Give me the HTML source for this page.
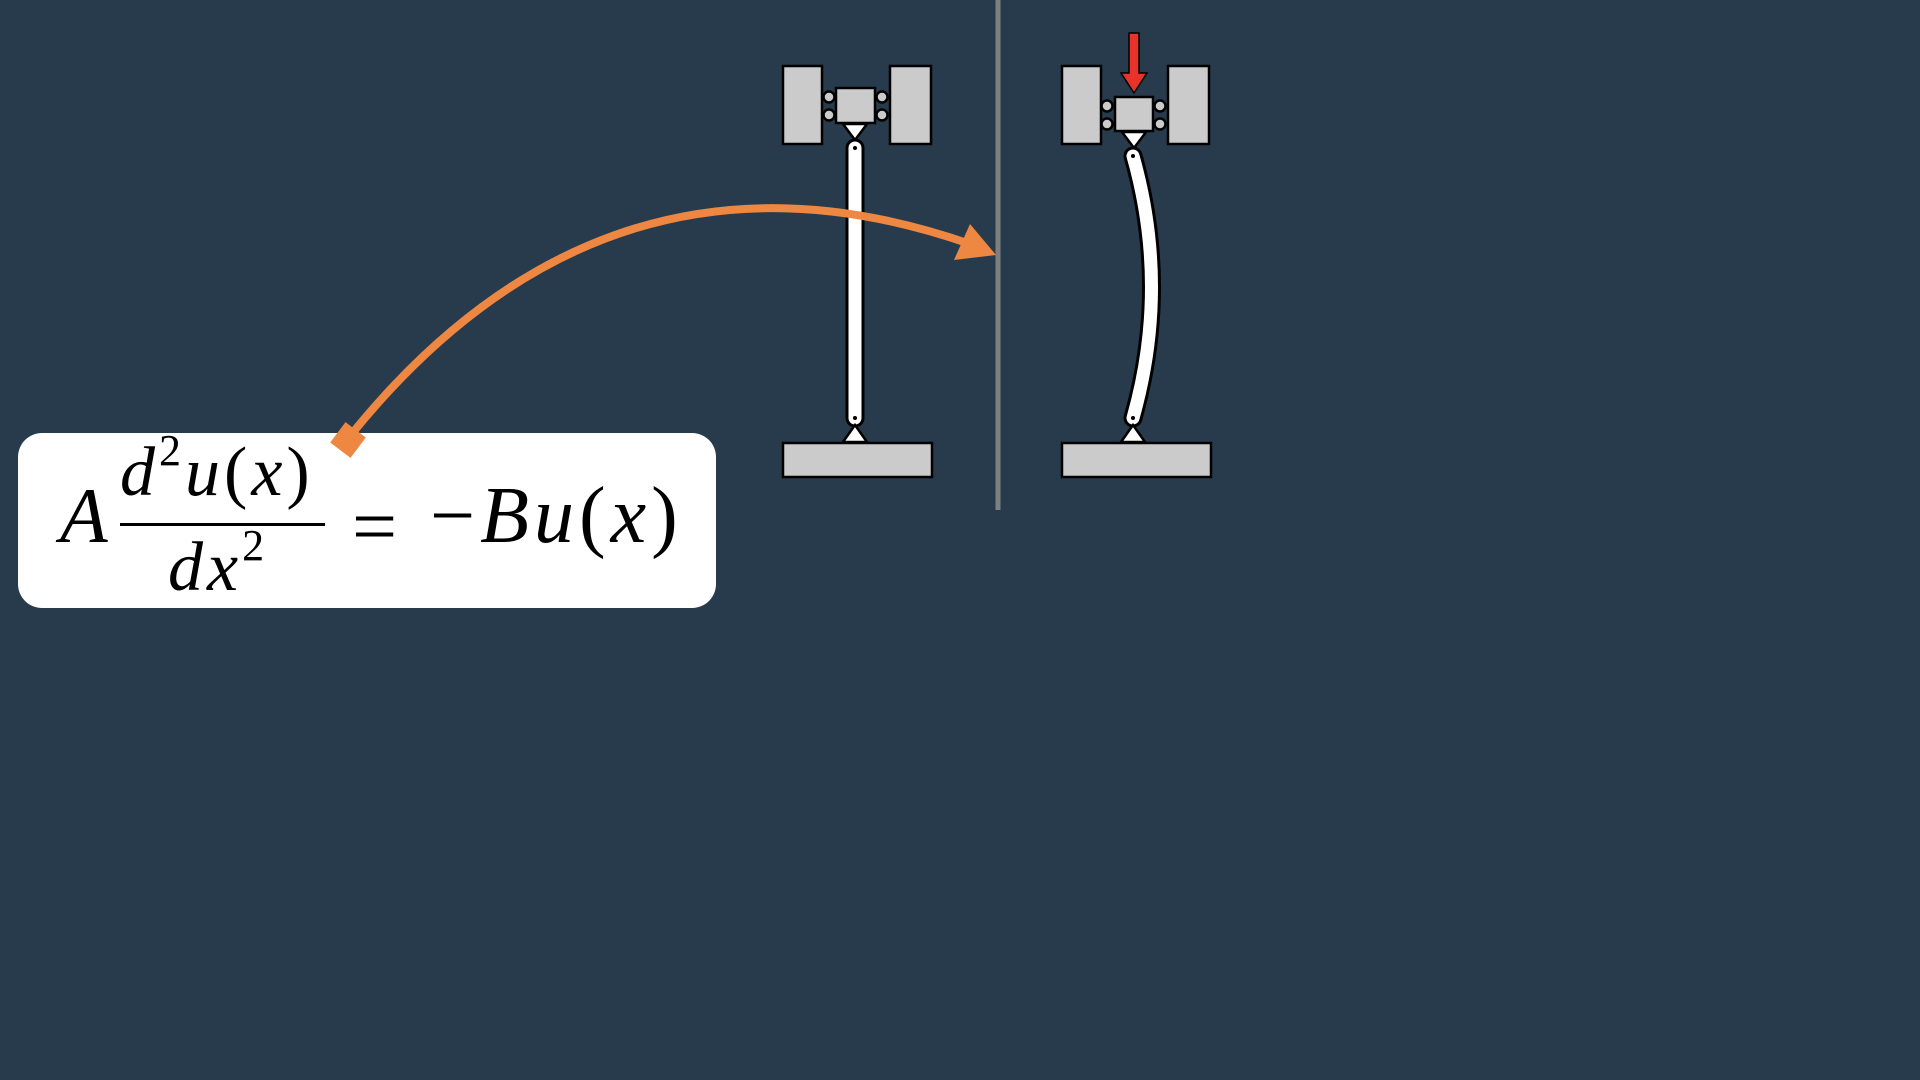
<!DOCTYPE html>
<html><head><meta charset="utf-8"><style>
html,body{margin:0;padding:0;background:#283b4c;}
svg{display:block}
.m{font-family:"Liberation Serif",serif;font-style:italic;fill:#000}
.r{font-family:"Liberation Serif",serif;font-style:normal;fill:#000}
</style></head><body>
<svg width="1920" height="1080" viewBox="0 0 1920 1080">
<rect x="0" y="0" width="1920" height="1080" fill="#283b4c"/>
<line x1="998" y1="0" x2="998" y2="510" stroke="#7d7f81" stroke-width="5"/>

<g stroke="#000" stroke-width="2.5">
  <rect x="783" y="66" width="39" height="78" fill="#cbcbcb"/>
  <rect x="890" y="66" width="41" height="78" fill="#cbcbcb"/>
  <circle cx="829" cy="97" r="5.5" fill="#cbcbcb"/>
  <circle cx="829" cy="115" r="5.5" fill="#cbcbcb"/>
  <circle cx="882" cy="97" r="5.5" fill="#cbcbcb"/>
  <circle cx="882" cy="115" r="5.5" fill="#cbcbcb"/>
  <rect x="836" y="88" width="39" height="35" fill="#cbcbcb"/>
  <polygon points="843,124 867,124 855,140" fill="#fff"/>
  <line x1="855" y1="148" x2="855" y2="418" stroke="#000" stroke-width="19" stroke-linecap="round"/>
  <line x1="855" y1="148" x2="855" y2="418" stroke="#fff" stroke-width="13" stroke-linecap="round"/>
  <circle cx="855" cy="148" r="2" fill="#000" stroke="none"/>
  <circle cx="855" cy="418" r="2" fill="#000" stroke="none"/>
  <polygon points="855,425 843,442 867,442" fill="#fff"/>
  <rect x="783" y="443" width="149" height="34" fill="#cbcbcb"/>
</g>

<g stroke="#000" stroke-width="2.5">
  <rect x="1062" y="66" width="39" height="78" fill="#cbcbcb"/>
  <rect x="1168" y="66" width="41" height="78" fill="#cbcbcb"/>
  <circle cx="1107" cy="106" r="5.5" fill="#cbcbcb"/>
  <circle cx="1107" cy="124" r="5.5" fill="#cbcbcb"/>
  <circle cx="1160" cy="106" r="5.5" fill="#cbcbcb"/>
  <circle cx="1160" cy="124" r="5.5" fill="#cbcbcb"/>
  <rect x="1115" y="97" width="38" height="34" fill="#cbcbcb"/>
  <polygon points="1122,132 1146,132 1134,148" fill="#fff"/>
  <path d="M1133,156 Q1170,287 1133,418" fill="none" stroke="#000" stroke-width="19" stroke-linecap="round"/>
  <path d="M1133,156 Q1170,287 1133,418" fill="none" stroke="#fff" stroke-width="13" stroke-linecap="round"/>
  <circle cx="1133" cy="156" r="2" fill="#000" stroke="none"/>
  <circle cx="1133" cy="418" r="2" fill="#000" stroke="none"/>
  <polygon points="1133,425 1121,442 1145,442" fill="#fff"/>
  <rect x="1062" y="443" width="149" height="34" fill="#cbcbcb"/>
</g>

<g fill="#e8322a" stroke="#000" stroke-width="1.5">
  <polygon points="1129,33 1139,33 1139,73 1147,73 1134,93 1121,73 1129,73"/>
</g>

<g>
  <path d="M350,436 C500,250 700,150 970,244" fill="none" stroke="#ee8741" stroke-width="8"/>
  <polygon points="996,255 954,260 970,224" fill="#ee8741"/>
</g>

<g>
  <rect x="18" y="433" width="698" height="175" rx="24" fill="#fff"/>
  <polygon points="348,422 366,440 348,458 330,440" fill="#ee8741" transform="rotate(-8 348 440)"/>
  <text x="60" y="542" class="m" font-size="78">A</text>
  <text x="120" y="495" class="m" font-size="70" letter-spacing="4">d<tspan class="r" font-size="44" dy="-30">2</tspan><tspan dy="30">u</tspan><tspan class="r">(</tspan>x<tspan class="r">)</tspan></text>
  <rect x="120" y="523" width="205" height="3" fill="#000"/>
  <text x="168" y="590" class="m" font-size="70" letter-spacing="4">dx<tspan class="r" font-size="44" dy="-30">2</tspan></text>
  <text x="352" y="553" class="r" font-size="80">=</text>
  <text x="430" y="542" class="m" font-size="80" letter-spacing="5"><tspan class="r">−</tspan>Bu<tspan class="r">(</tspan>x<tspan class="r">)</tspan></text>
</g>
</svg>
</body></html>
